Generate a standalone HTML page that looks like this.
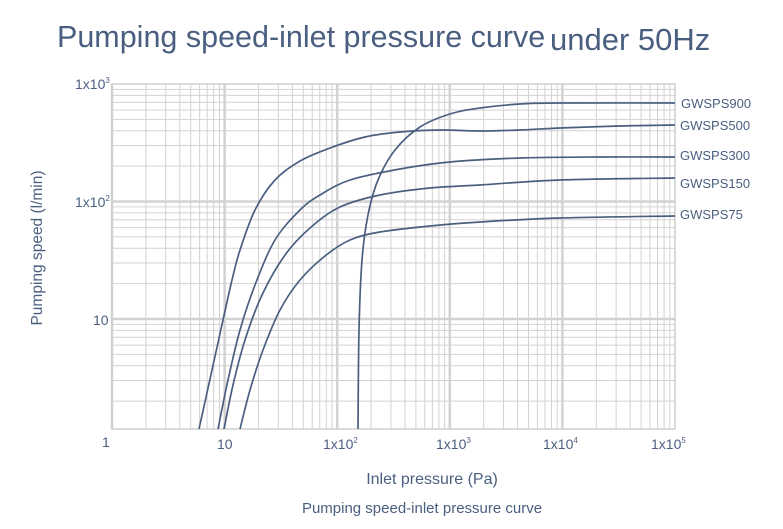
<!DOCTYPE html>
<html><head><meta charset="utf-8"><style>
body{margin:0;background:#fff;}
svg{display:block;font-family:"Liberation Sans",sans-serif;}
</style></head><body>
<svg width="783" height="529" viewBox="0 0 783 529">
<g id="grid" stroke="#d2d2d2" stroke-width="1" fill="none"></g>
<rect x="112" y="84" width="563" height="345" fill="none" stroke="#cfcfcf" stroke-width="1.5"/>
<g id="curves" fill="none" stroke="#4a5f80" stroke-width="1.7" stroke-linejoin="round"></g>
<g fill="#4a5f80" font-size="13">
<text x="681" y="108">GWSPS900</text>
<text x="680" y="130">GWSPS500</text>
<text x="680" y="160">GWSPS300</text>
<text x="680" y="188">GWSPS150</text>
<text x="680" y="219">GWSPS75</text>
</g>
<g fill="#4a5f80" font-size="14">
<text x="75" y="89">1x10<tspan font-size="8" dy="-6">3</tspan></text>
<text x="75" y="207">1x10<tspan font-size="8" dy="-6">2</tspan></text>
<text x="93" y="325">10</text>
<text x="102" y="447">1</text>
<text x="217" y="449">10</text>
<text x="323" y="449">1x10<tspan font-size="8" dy="-6">2</tspan></text>
<text x="436" y="449">1x10<tspan font-size="8" dy="-6">3</tspan></text>
<text x="543" y="449">1x10<tspan font-size="8" dy="-6">4</tspan></text>
<text x="651" y="449">1x10<tspan font-size="8" dy="-6">5</tspan></text>
</g>
<text x="57" y="47" font-size="30.5" fill="#4a5f80">Pumping speed-inlet pressure curve</text>
<text x="550" y="50" font-size="31" fill="#4a5f80">under 50Hz</text>
<text x="432" y="484" font-size="16" fill="#4a5f80" text-anchor="middle">Inlet pressure (Pa)</text>
<text x="422" y="513" font-size="15" fill="#4a5f80" text-anchor="middle">Pumping speed-inlet pressure curve</text>
<text transform="translate(42,248) rotate(-90)" font-size="15.5" fill="#4a5f80" text-anchor="middle">Pumping speed (l/min)</text>
</svg>
<script>
var g=document.getElementById('grid'),s='';
for(var d=0;d<5;d++)for(var k=1;k<10;k++){var x=112+112.6*(d+Math.log10(k));if(x>676)continue;s+='<line x1="'+x+'" y1="84" x2="'+x+'" y2="429"'+(k==1?' stroke-width="2.5"':'')+'/>';}
for(var d=0;d<3;d++)for(var k=1;k<10;k++){var y=84+117.5*(d+1-Math.log10(k));if(y>429)continue;s+='<line x1="112" y1="'+y+'" x2="675" y2="'+y+'"'+(k==1?' stroke-width="2.5"':'')+'/>';}
g.innerHTML=s;
var C=[
[358,429,359,330,362,260,368,215,378,180,395,150,420,127,450,114,480,108,520,104,560,103,675,103],
[199,429,212,370,223,320,232,280,240,250,255,210,275,180,300,161,330,148,365,137,400,132,440,130,480,131,520,130,560,128,620,126,675,125],
[218,429,228,380,240,330,255,285,275,240,300,210,320,195,350,180,400,169,450,162,520,158,600,157,675,157],
[224,429,233,385,245,340,262,295,285,255,310,228,340,207,380,195,430,188,480,185,560,180,675,178],
[240,429,250,390,263,350,280,310,300,280,325,256,350,240,380,232,430,226,480,222,560,218,675,216]];
var out='';
C.forEach(function(a){var p=[];for(var i=0;i<a.length;i+=2)p.push([a[i],a[i+1]]);
var d='M'+p[0][0]+','+p[0][1];
for(var i=0;i<p.length-1;i++){var p0=p[i-1]||p[i],p1=p[i],p2=p[i+1],p3=p[i+2]||p2;
d+=' C'+(p1[0]+(p2[0]-p0[0])/6)+','+(p1[1]+(p2[1]-p0[1])/6)+' '+(p2[0]-(p3[0]-p1[0])/6)+','+(p2[1]-(p3[1]-p1[1])/6)+' '+p2[0]+','+p2[1];}
out+='<path d="'+d+'"/>';});
document.getElementById('curves').innerHTML=out;
</script>
</body></html>
